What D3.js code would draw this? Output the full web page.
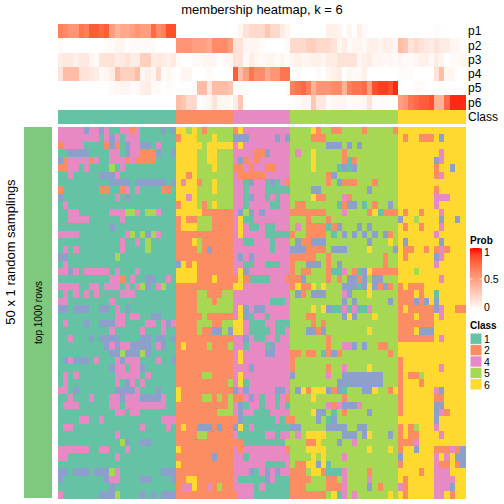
<!DOCTYPE html>
<html><head><meta charset="utf-8">
<script src="https://cdn.jsdelivr.net/npm/d3@7"></script>
<style>html,body{margin:0;padding:0;background:#fff}svg{display:block}text{font-family:"Liberation Sans",Arial,sans-serif;fill:#000}</style>
</head><body><div id="c"></div>
<script>
const title = "membership heatmap, k = 6";
const classLevels = [1,2,3,4,5,6];
const classColors = ["#66C2A5","#FC8D62","#8DA0CB","#E78AC3","#A6D854","#FFD92F"];
const legendClasses = [1,2,4,5,6];
const probTicks = [1,0.5,0];
const probLabels = ["p1","p2","p3","p4","p5","p6"];
const sampleClass = [1,1,1,1,1,1,1,1,1,1,1,1,1,1,1,1,1,1,1,1,1,1,1,
 2,2,2,2,2,2,2,2,2,2,2, 4,4,4, 4,4,4,4,4,4,4,4,
 5,5,5,5,5,5,5,5,5,5,5,5,5,5,5,5,5,5,5,5,5,
 6,6,6,6,6,6,6,6,6,6,6,6,6];
const sliceBreak = 37;
const p1 = [.65,.6,.55,.55,.7,.65,.8,.8,.75,.8,.5,.4,.45,.45,.5,.55,.5,.5,.75,.6,.65,.85,.85, 0,0,0,0,0,0,0,0,0,0,0, 0,.05,.15, .2,.2,.2,.3,.2,.2,.1,.05, 0,0,0,0,0,0,0,.08,.08,.06,0,.05,0,.08,.03,0,0,0,0,0,0, 0,0,0,0,0,0,0,.02,0,0,0,0,0];
const p2 = [.03,0,0,0,0,0,0,0,0,.02,.03,.05,.05,.01,.02,.03,.03,.03,.03,0,0,0,0, .55,.55,.55,.5,.5,.5,.45,.6,.6,.6,.5, .15,.15,.05, .05,.05,.02,0,0,0,0,.03, .2,.2,.2,.25,.25,.2,.2,.2,.15,.05,.1,.03,.05,.05,.03,.08,.08,.05,.1,.08,.05, .35,.3,.15,.2,.15,.12,.1,.15,.1,.1,.05,.05,.02];
const p3 = [.1,.12,.12,.08,.12,.12,.05,.03,.15,.15,.15,.1,.12,.15,.1,.1,.25,.25,.1,.12,.1,.08,.12, .03,0,0,.03,.03,.05,.05,.05,0,.03,.05, .15,.15,.03, .1,.05,.03,.05,.05,.03,.05,.02, .05,.08,.05,.05,.08,.08,.05,.1,.1,.15,.15,.15,.15,.05,.08,.1,.05,.05,.03,.05,.03, .05,.03,.03,.05,.08,.08,.03,.1,.05,0,.03,.03,.05];
const p4 = [.15,.35,.35,.35,.15,.15,.12,.1,.03,.05,.1,.35,.25,.25,.25,.35,.05,.08,.05,.2,.02,.05,.02, 0,.05,.05,0,0,0,.03,0,0,0,0, .8,.35,.5, .7,.6,.6,.45,.55,.55,.7,.7, 0,.03,0,0,0,.03,0,.05,.08,.1,0,.05,.03,.03,.08,0,0,0,0,0,0, .02,.02,.02,0,0,0,0,.15,.35,.05,.05,0,0];
const p5 = [0,0,0,0,0,0,0,0,0,0,.03,.05,.05,.05,.02,.03,.08,.1,.02,.03,.01,.03,.01, 0,0,0,.03,.35,.35,.12,.35,.35,.35,.3, 0,.02,.03, 0,0,0,0,0,0,0,.03, .65,.7,.75,.65,.4,.55,.55,.55,.6,.6,.4,.65,.7,.7,.75,.5,.85,.9,.9,.85,.95, 0,0,0,.03,.03,.01,0,0,0,0,0,0,0];
const p6 = [0,0,0,0,0,0,0,0,0,0,0,0,0,0,0,0,0,0,0,0,0,0,0, .35,.3,.2,.2,0,.03,.05,.15,.05,.05,.03, .1,.3,0, 0,0,0,0,0,0,0,0, 0,.02,.05,.05,.3,.12,.12,.01,.05,.05,.05,.01,.04,.04,.05,.15,.02,.02,.02,0,0, .5,.55,.7,.75,.8,.8,.85,.4,.4,.75,.95,.95,.95];
const probRows = [p1,p2,p3,p4,p5,p6];
const heatRows = [
"44444344341144241111313 66565255555 264 44444444 555562552255552555552 6666666666666",
"44444444143414441111111 26665556555 333 44444343 555522255555555555555 6266222636666",
"24444111123213443314111 66666566666 464 44444444 555555533353535555555 6666666666666",
"11333311114413442223113 66665566555 444 42234444 545565555525555555555 6666666646666",
"32444424114442422221111 66665566555 432 42444444 555565555521255555555 6666666346666",
"22441411115141111111111 66665556555 224 24422444 555565555131355555555 6666666266366",
"11411111333411111111111 66265555555 422 22244444 555555523555555555555 6666666246666",
"11111111113333133333313 64662556555 441 34413142 555555525322255525555 6666666666666",
"21111111221124141111221 66665556555 441 44411111 555533555555555355555 6666666266666",
"31111111111413111111111 66465555555 441 34414144 555562255542555555555 6666666444666",
"14111111111111111111111 26665256555 441 44441144 522555555123351525535 6666666466666",
"11441111114445541554111 66666222222 435 34344444 222222255545555261222 6266266646666",
"11444411111141111111111 26225552222 461 14444444 555255525555555555555 3665666636636",
"11111111113111111111111 26665552222 464 11411444 545222212355535355555 6266266646666",
"44441111111114515354111 22222222222 464 44411111 255222251535353535325 6666666466666",
"11111111111141141511111 22265222222 441 14441444 532233355555555355565 6366666636666",
"14141111111141111511111 22225232222 444 44441444 333222253335555655553 6226626242666",
"33111111111511111111111 22222222222 434 34444444 222225525555555555255 6266666346666",
"14111111111111111111111 36262222222 441 14411144 255333525355555555255 6666666466666",
"44341444441411141111111 66662222222 463 44444444 252255521145213622222 6665666666666",
"11111111114421411331141 66662226222 262 11114442 223555525253323533555 6666666646666",
"44441144144414145314511 22222222222 664 44444444 262265655533313632325 2622266666666",
"14141414111144411111111 22225522255 444 44444444 532533355543555655555 2226266166666",
"44111111114111111111111 22225552555 444 44441114 555555555535355555535 2223236366666",
"33133311331413111111111 22225555555 463 43344444 555565631141411455555 2622222346622",
"11111111111441441133111 22222522222 463 14414444 555225555536355565555 2226222646666",
"14111311333441111441434 22225552255 664 11144111 555525255555555555555 2222222666666",
"11111111114111114111411 22225223353 664 11114114 555332355555555655555 2226333666666",
"11411131333311113313313 22222222222 443 41144144 555555525555555555555 2222222646666",
"11111111134344333314311 26222252225 441 44413444 555555525544353552255 6666666666666",
"11111111113353335311111 22222222222 464 44433444 225225123255555555525 6666666666666",
"13433314111434441114113 22222222222 464 44444444 255555555555555555555 2666666666666",
"11111111113441443111111 22222222222 444 34444444 255555525545555655555 2666666646666",
"14141111111444441411111 22222552222 464 44444444 355555545533333333555 2622566666666",
"14111111111413414111111 22222222225 461 44444444 555555555333333333555 2666266666666",
"44131111111333341113111 62222222222 343 44444334 536266632315553365526 2666666436666",
"11411141114434443333411 62222552525 224 34144142 555565555525555555555 2666666226666",
"14441111114414444444411 22222222225 431 44144141 555555542433345555555 2666666336666",
"11111111111441441111111 22222222555 434 41114444 555563351525555355555 2666666342666",
"11114411411111111111444 22222222222 231 11111412 255553513555555555555 6666666366666",
"14411111111111114111141 26223332322 361 41111111 335555533335533555555 2625666466666",
"11111111111411111111111 22225522222 411 11144144 545666655533353655535 2622666646666",
"11111111111153113311111 22222222222 221 11111115 555226555355455555555 2224666666666",
"44444411441114111111111 62222222222 424 44444442 555666655555555655565 2663666222423",
"44111111111411111111111 22222223222 441 44444444 555565655545555555555 3666666464633",
"11111111111111111111111 62222222222 444 44411114 522663615555555555555 2666666422623",
"33133313335411111111333 22222222222 444 31434344 222566211145555255555 6666266444666",
"31111111134411113311113 22662222222 411 11134111 222255522545555455555 6266666444466",
"11111111113111111111111 24462242522 444 41411111 222555522245555352555 4266666444366",
"41111111333511113131333 22222222222 244 41111111 222222256145455555565 6266666446266"
].map(s => s.replace(/ /g,""));

const W = 504, H = 504;
const svg = d3.select("#c").append("svg").attr("width",W).attr("height",H);
const x = d3.scaleBand().domain(d3.range(sampleClass.length)).range([58,464]);
const colX = j => x(j) + (j >= sliceBreak ? 1 : 0);
const colorClass = d3.scaleOrdinal().domain(classLevels).range(classColors);
const colorProb = d3.scaleLinear().domain([0,1]).range(["#ffffff","#ff0000"]).interpolate(d3.interpolateLab);
const yHeat = d3.scaleBand().domain(d3.range(heatRows.length)).range([127,498]);
const yProb = d3.scaleBand().domain(d3.range(probRows.length)).range([24,109.5]);

svg.append("text").attr("x",262).attr("y",13.5).attr("text-anchor","middle").style("font-size","13px").text(title);

const gp = svg.append("g").attr("shape-rendering","crispEdges");
probRows.forEach((vals,i)=>{
  gp.selectAll(null).data(vals).join("rect")
    .attr("x",(d,j)=>colX(j)).attr("y",yProb(i)).attr("width",x.bandwidth()+.5).attr("height",yProb.bandwidth()+.4)
    .attr("fill",d=>colorProb(d));
  svg.append("text").attr("x",468).attr("y",yProb(i)+yProb.bandwidth()/2).attr("dy","0.36em").style("font-size","12px").text(probLabels[i]);
});
const classY = 110, classH = 14;
svg.append("g").attr("shape-rendering","crispEdges").selectAll("rect").data(sampleClass).join("rect")
  .attr("x",(d,j)=>colX(j)).attr("y",classY).attr("width",x.bandwidth()+.5).attr("height",classH).attr("fill",d=>colorClass(d));
svg.append("text").attr("x",468).attr("y",classY+classH/2).attr("dy","0.36em").style("font-size","12px").text("Class");

const gh = svg.append("g").attr("shape-rendering","crispEdges");
heatRows.forEach((row,i)=>{
  gh.selectAll(null).data(row.split("").map(Number)).join("rect")
    .attr("x",(d,j)=>colX(j)).attr("y",yHeat(i)).attr("width",x.bandwidth()+.5).attr("height",yHeat.bandwidth()+.5)
    .attr("fill",d=>colorClass(d));
});

svg.append("rect").attr("x",24).attr("y",127).attr("width",28).attr("height",371).attr("fill","#7FC97F");
svg.append("text").attr("transform","translate(41.5,312.5) rotate(-90)").attr("text-anchor","middle").style("font-size","10px").text("top 1000 rows");
svg.append("text").attr("transform","translate(15,252) rotate(-90)").attr("text-anchor","middle").style("font-size","13px").text("50 x 1 random samplings");

const defs = svg.append("defs");
const grad = defs.append("linearGradient").attr("id","pg").attr("x1",0).attr("x2",0).attr("y1",1).attr("y2",0);
d3.range(0,1.01,.1).forEach(t=>grad.append("stop").attr("offset",t).attr("stop-color",colorProb(t)));
const legX = 470;
const yLeg = d3.scaleLinear().domain([0,1]).range([310,248]);
svg.append("text").attr("x",legX).attr("y",244).style("font-size","10px").style("font-weight","bold").text("Prob");
svg.append("rect").attr("x",legX).attr("y",yLeg(1)).attr("width",12).attr("height",yLeg(0)-yLeg(1)).attr("fill","url(#pg)");
const labelY = {1:252,0.5:279.5,0:307};
probTicks.forEach(t=>{
  [[legX,legX+2.5],[legX+9.5,legX+12]].forEach(([a,b])=>svg.append("line").attr("x1",a).attr("x2",b).attr("y1",yLeg(t)).attr("y2",yLeg(t)).attr("stroke","#fff").attr("stroke-width",.7));
  svg.append("text").attr("x",legX+14).attr("y",labelY[t]).attr("dy","0.36em").style("font-size","10.5px").text(t);
});

svg.append("text").attr("x",legX).attr("y",329).style("font-size","10px").style("font-weight","bold").text("Class");
const yCls = d3.scaleBand().domain(legendClasses).range([333,390]);
svg.append("g").selectAll("rect").data(legendClasses).join("rect")
  .attr("x",legX+.5).attr("y",d=>yCls(d)+.5).attr("width",11).attr("height",yCls.bandwidth()-1).attr("fill",d=>colorClass(d));
svg.append("g").selectAll("text").data(legendClasses).join("text")
  .attr("x",legX+14).attr("y",d=>yCls(d)+yCls.bandwidth()/2+.5).attr("dy","0.36em").style("font-size","10.5px").text(d=>d);
</script></body></html>
